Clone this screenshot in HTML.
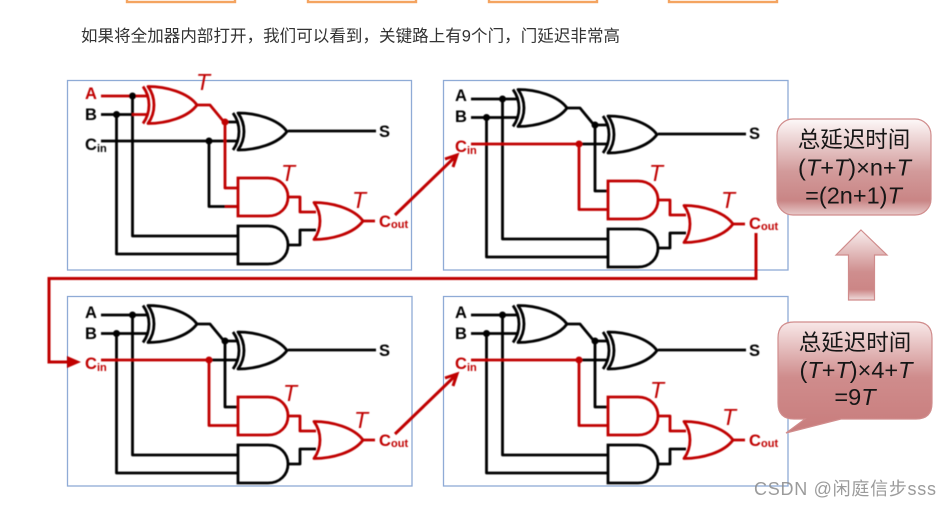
<!DOCTYPE html>
<html><head><meta charset="utf-8"><style>
html,body{margin:0;padding:0;background:#fff;width:951px;height:508px;overflow:hidden}
svg{display:block}
text{font-family:"Liberation Sans","Noto Sans CJK SC",sans-serif}
.w{fill:none;stroke-width:2.8;stroke-linejoin:round}
.k{stroke:#000;color:#000}
.r{stroke:#c00000;color:#c00000}
.l{font-weight:bold;font-size:16.5px}
.s{font-weight:bold;font-size:11px}
.T{font-style:italic;font-size:23px;fill:#c00000}
.c{font-size:23.5px;fill:#151515;text-anchor:middle}
.z{font-size:22.500px;fill:#151515;text-anchor:middle}
.i{font-style:italic}
</style></head><body>
<svg width="951" height="508" viewBox="0 0 951 508" xmlns="http://www.w3.org/2000/svg">
<defs>
<linearGradient id="g1" x1="0" y1="0" x2="0" y2="1"><stop offset="0" stop-color="#fdf8f8"/><stop offset=".55" stop-color="#d29a9a"/><stop offset=".85" stop-color="#c98585"/><stop offset="1" stop-color="#e8caca"/></linearGradient>
<linearGradient id="g2" x1="0" y1="0" x2="0" y2="1"><stop offset="0" stop-color="#f8eeee"/><stop offset=".6" stop-color="#cf8e8e"/><stop offset=".85" stop-color="#cc8686"/><stop offset="1" stop-color="#efdcdc"/></linearGradient>
<linearGradient id="g3" x1="0" y1="0" x2="0" y2="1"><stop offset="0" stop-color="#f8e8e8"/><stop offset=".5" stop-color="#cf8c8c"/><stop offset="1" stop-color="#c87c7c"/></linearGradient>
<filter id="b" x="-5%" y="-5%" width="110%" height="110%"><feGaussianBlur stdDeviation="0.45"/></filter>
<filter id="b2" x="-5%" y="-5%" width="110%" height="110%"><feGaussianBlur stdDeviation="0.3"/></filter>
<g id="xor" fill="none" stroke="currentColor" stroke-width="2.8"><path d="M0 0C18 0 40 6 49 18.5C40 31 18 37 0 37C8 26 8 11 0 0Z" stroke-linejoin="round"/><path d="M-5 0C3 11 3 26 -5 37"/></g>
<g id="and" fill="none" stroke="currentColor" stroke-width="2.8"><path d="M0 0H30C42 0 50 8.500 50 19C50 29.500 42 38 30 38H0Z"/></g>
<g id="or" fill="none" stroke="currentColor" stroke-width="2.8"><path d="M0 0C18 0 40 6 49 18.500C40 31 18 37 0 37C8 26 8 11 0 0Z" stroke-linejoin="round"/></g>
</defs>
<g fill="#fff" stroke="#f4a460" stroke-width="2.400"><rect x="127" y="-5" width="108" height="7"/><rect x="308" y="-5" width="108" height="7"/><rect x="489" y="-5" width="108" height="7"/><rect x="669" y="-5" width="108" height="7"/></g>
<text x="81" y="41.500" font-size="16.500" fill="#333" textLength="539" lengthAdjust="spacing">如果将全加器内部打开，我们可以看到，关键路上有9个门，门延迟非常高</text>
<g fill="none" stroke="#8fabd6" stroke-width="1.300"><rect x="67.500" y="80.500" width="344" height="189.500"/><rect x="443.500" y="80.500" width="344.500" height="189.500"/><rect x="67.500" y="296.500" width="344.500" height="189.500"/><rect x="443.500" y="296.500" width="344.500" height="189.500"/></g>
<g filter="url(#b)">
<!-- panel 1 -->
<g>
<path class="w k" d="M132.500 96V236H238M116.500 114.500V254H238M101 114.500H132M101 141H238M209 141V206.500H238M288 131H376M288 245H300V230H316M225 122H238"/>
<use href="#xor" x="238" y="113" class="k"/><use href="#and" x="238" y="226" class="k"/>
<path class="w r" d="M101 96H148M132 114.500H148M197 105H210L224 122H225V188H238M225 206.500H238M288 197H300V212H316M363 221H375"/>
<use href="#xor" x="148" y="86.500" class="r"/><use href="#and" x="238" y="178" class="r"/><use href="#or" x="314" y="202.500" class="r"/>
<circle cx="132.500" cy="96" r="3.500" fill="#000"/><circle cx="116.500" cy="114.500" r="3.500" fill="#000"/><circle cx="209" cy="141" r="3.500" fill="#000"/><circle cx="225" cy="122" r="3.500" fill="#c00000"/>
<text x="85" y="99" class="l" fill="#c00000">A</text><text x="85" y="120" class="l">B</text><text x="85" y="150" class="l">C</text><text x="97" y="152" class="s">in</text>
<text x="379" y="137" class="l">S</text><text x="379" y="227" class="l" fill="#c00000">C</text><text x="391" y="228" class="s" fill="#c00000">out</text>
<text x="196" y="90" class="T">T</text><text x="281" y="181" class="T">T</text><text x="352" y="208" class="T">T</text>
</g>
<!-- panel 2 -->
<g transform="translate(370 3)">
<path class="w k" d="M101 96H148M132.500 96V236H238M116.500 114.500V254H238M101 114.500H148M209 141H238M197 105H210L224 122H225V188H238M225 122H238M288 131H376M288 245H300V230H316"/>
<use href="#xor" x="148" y="86.500" class="k"/><use href="#xor" x="238" y="113" class="k"/><use href="#and" x="238" y="226" class="k"/>
<path class="w r" d="M101 141H209V206.500H238M288 197H300V212H316M363 221H375"/>
<use href="#and" x="238" y="178" class="r"/><use href="#or" x="314" y="202.500" class="r"/>
<circle cx="132.500" cy="96" r="3.500" fill="#000"/><circle cx="116.500" cy="114.500" r="3.500" fill="#000"/><circle cx="225" cy="122" r="3.500" fill="#000"/><circle cx="209" cy="141" r="3.500" fill="#c00000"/>
<text x="85" y="98" class="l">A</text><text x="85" y="119" class="l">B</text><text x="85" y="149" class="l" fill="#c00000">C</text><text x="97" y="151" class="s" fill="#c00000">in</text>
<text x="379" y="136" class="l">S</text><text x="379" y="226" class="l" fill="#c00000">C</text><text x="391" y="227" class="s" fill="#c00000">out</text>
<text x="279" y="178" class="T">T</text><text x="351" y="205" class="T">T</text>
</g>
<!-- panel 3 -->
<g transform="translate(0 219)">
<path class="w k" d="M101 96H148M132.500 96V236H238M116.500 114.500V254H238M101 114.500H148M209 141H238M197 105H210L224 122H225V188H238M225 122H238M288 131H376M288 245H300V230H316"/>
<use href="#xor" x="148" y="86.500" class="k"/><use href="#xor" x="238" y="113" class="k"/><use href="#and" x="238" y="226" class="k"/>
<path class="w r" d="M101 141H209V206.500H238M288 197H300V212H316M363 221H375"/>
<use href="#and" x="238" y="178" class="r"/><use href="#or" x="314" y="202.500" class="r"/>
<circle cx="132.500" cy="96" r="3.500" fill="#000"/><circle cx="116.500" cy="114.500" r="3.500" fill="#000"/><circle cx="225" cy="122" r="3.500" fill="#000"/><circle cx="209" cy="141" r="3.500" fill="#c00000"/>
<text x="85" y="99" class="l">A</text><text x="85" y="120" class="l">B</text><text x="85" y="150" class="l" fill="#c00000">C</text><text x="97" y="152" class="s" fill="#c00000">in</text>
<text x="379" y="137" class="l">S</text><text x="379" y="227" class="l" fill="#c00000">C</text><text x="391" y="228" class="s" fill="#c00000">out</text>
<text x="283" y="182" class="T">T</text><text x="354" y="209" class="T">T</text>
</g>
<!-- panel 4 -->
<g transform="translate(370 219)">
<path class="w k" d="M101 96H148M132.500 96V236H238M116.500 114.500V254H238M101 114.500H148M209 141H238M197 105H210L224 122H225V188H238M225 122H238M288 131H376M288 245H300V230H316"/>
<use href="#xor" x="148" y="86.500" class="k"/><use href="#xor" x="238" y="113" class="k"/><use href="#and" x="238" y="226" class="k"/>
<path class="w r" d="M101 141H209V206.500H238M288 197H300V212H316M363 221H375"/>
<use href="#and" x="238" y="178" class="r"/><use href="#or" x="314" y="202.500" class="r"/>
<circle cx="132.500" cy="96" r="3.500" fill="#000"/><circle cx="116.500" cy="114.500" r="3.500" fill="#000"/><circle cx="225" cy="122" r="3.500" fill="#000"/><circle cx="209" cy="141" r="3.500" fill="#c00000"/>
<text x="85" y="99" class="l">A</text><text x="85" y="120" class="l">B</text><text x="85" y="150" class="l" fill="#c00000">C</text><text x="97" y="152" class="s" fill="#c00000">in</text>
<text x="379" y="137" class="l">S</text><text x="379" y="227" class="l" fill="#c00000">C</text><text x="391" y="228" class="s" fill="#c00000">out</text>
<text x="280" y="179" class="T">T</text><text x="352" y="206" class="T">T</text>
</g>
<!-- connectors -->
<g fill="none" stroke="#c00000" stroke-width="3" stroke-linejoin="miter">
<path d="M395 215L456 156M445 159L457 155L453 167"/>
<path d="M395 434L456 375M445 378L457 374L453 386"/>
<path d="M756 233V278.500H49V362H70"/>
</g>
<path d="M67 356L81 362L67 368Z" fill="#c00000"/>
</g>
<!-- callouts -->
<rect x="777" y="119" width="154" height="96" rx="16" fill="url(#g1)" stroke="#d08c8c" stroke-width="1.200"/>
<path d="M861 230L887 255H874.500V300H848.500V255H836Z" fill="url(#g2)" stroke="#d08c8c" stroke-width="1.200"/>
<path d="M794 322H916Q932 322 932 338V403Q932 419 916 419H841L786 433L805 419H794Q778 419 778 403V338Q778 322 794 322Z" fill="url(#g3)" stroke="#d08c8c" stroke-width="1.200"/>
<g filter="url(#b2)">
<text x="854" y="147.500" class="z">总延迟时间</text>
<text x="854.500" y="175.500" class="c">(<tspan class="i">T</tspan>+<tspan class="i">T</tspan>)×n+<tspan class="i">T</tspan></text>
<text x="853.500" y="203.500" class="c">=(2n+1)<tspan class="i">T</tspan></text>
<text x="855" y="350.500" class="z">总延迟时间</text>
<text x="856" y="378" class="c">(<tspan class="i">T</tspan>+<tspan class="i">T</tspan>)×4+<tspan class="i">T</tspan></text>
<text x="855" y="405" class="c">=9<tspan class="i">T</tspan></text>
</g>
<text x="754" y="495" font-size="18" fill="#8a8a8a" fill-opacity=".85" textLength="182">CSDN @闲庭信步sss</text>
</svg>
</body></html>
